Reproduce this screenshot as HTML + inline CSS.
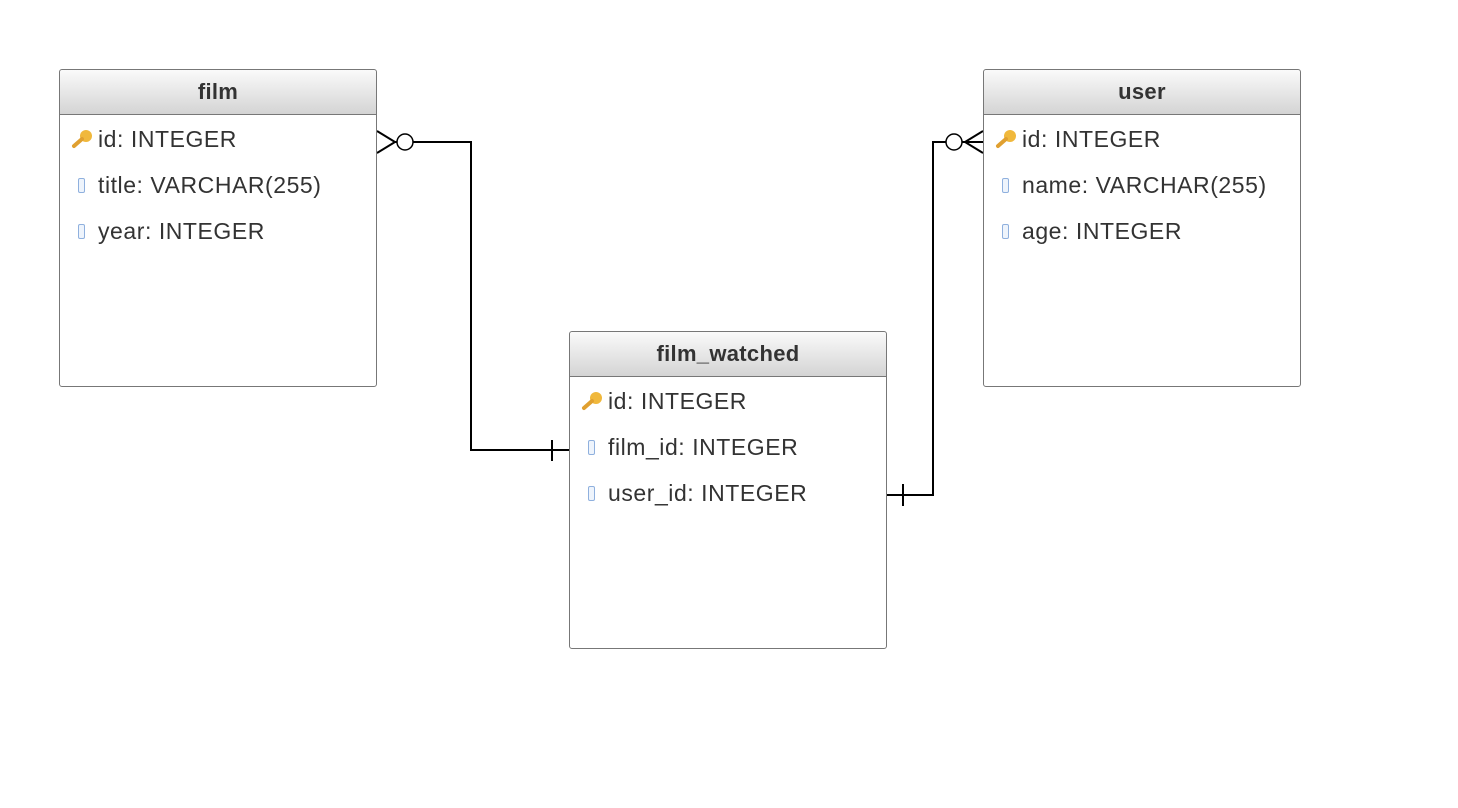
<!DOCTYPE html>
<html><head><meta charset="utf-8"><style>
body{margin:0;width:1458px;height:808px;background:#fff;position:relative;overflow:hidden;font-family:"Liberation Sans",sans-serif}
.t{position:absolute;width:316px;height:316px;border:1px solid #777;border-radius:3px;background:#fff;box-sizing:content-box}
.h{height:44px;border-bottom:1px solid #777;background:linear-gradient(#fafafa,#d4d4d4);text-align:center;font-weight:bold;font-size:22px;letter-spacing:0.3px;line-height:44px;color:#333;border-radius:3px 3px 0 0}
.r{position:absolute;font-size:23px;letter-spacing:0.55px;color:#333;line-height:26px}
.c{position:absolute;width:5px;height:13px;border:1px solid #8fb0de;border-radius:2px;background:#eef4fc}
.key{position:absolute}
</style></head><body>
<svg width="1458" height="808" style="position:absolute;left:0;top:0">
<g stroke="#000" stroke-width="2" fill="none">
<path d="M393 142H471V450H569"/><path d="M377 131L395 142L377 153"/><path d="M552 440V461"/>
<path d="M887 495H933V142H983"/><path d="M983 131L965 142L983 153"/><path d="M903 484V506"/>
</g>
<circle cx="405" cy="142" r="8" fill="#fff" stroke="#000" stroke-width="1.5"/>
<circle cx="954" cy="142" r="8" fill="#fff" stroke="#000" stroke-width="1.5"/>
</svg>
<div class="t" style="left:59px;top:69px"><div class="h">film</div></div>
<div class="t" style="left:983px;top:69px"><div class="h">user</div></div>
<div class="t" style="left:569px;top:331px"><div class="h">film_watched</div></div>

<svg class="key" style="left:71px;top:129px" width="22" height="20"><circle cx="15" cy="7" r="6" fill="#f0b83c"/><path d="M11 10L3 17" stroke="#e0a030" stroke-width="4" stroke-linecap="round"/></svg>
<div class="r" style="left:98px;top:126px">id: INTEGER</div>
<div class="c" style="left:78px;top:178px"></div>
<div class="r" style="left:98px;top:172px">title: VARCHAR(255)</div>
<div class="c" style="left:78px;top:224px"></div>
<div class="r" style="left:98px;top:218px">year: INTEGER</div>

<svg class="key" style="left:995px;top:129px" width="22" height="20"><circle cx="15" cy="7" r="6" fill="#f0b83c"/><path d="M11 10L3 17" stroke="#e0a030" stroke-width="4" stroke-linecap="round"/></svg>
<div class="r" style="left:1022px;top:126px">id: INTEGER</div>
<div class="c" style="left:1002px;top:178px"></div>
<div class="r" style="left:1022px;top:172px">name: VARCHAR(255)</div>
<div class="c" style="left:1002px;top:224px"></div>
<div class="r" style="left:1022px;top:218px">age: INTEGER</div>

<svg class="key" style="left:581px;top:391px" width="22" height="20"><circle cx="15" cy="7" r="6" fill="#f0b83c"/><path d="M11 10L3 17" stroke="#e0a030" stroke-width="4" stroke-linecap="round"/></svg>
<div class="r" style="left:608px;top:388px">id: INTEGER</div>
<div class="c" style="left:588px;top:440px"></div>
<div class="r" style="left:608px;top:434px">film_id: INTEGER</div>
<div class="c" style="left:588px;top:486px"></div>
<div class="r" style="left:608px;top:480px">user_id: INTEGER</div>
</body></html>
